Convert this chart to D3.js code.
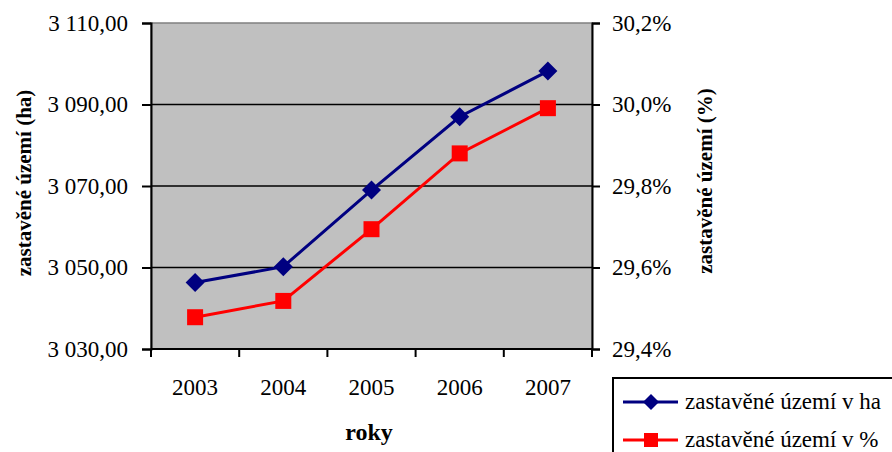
<!DOCTYPE html>
<html><head><meta charset="utf-8">
<script src="https://cdn.jsdelivr.net/npm/d3@7/dist/d3.min.js"></script>
<style>
html,body{margin:0;padding:0;background:#fff;}
svg{display:block;}
svg text{font-family:"Liberation Serif","Times New Roman",serif !important;}
</style></head>
<body><svg id="c" width="892" height="452"></svg>
<script>
const years = ["2003","2004","2005","2006","2007"];
const valuesHa = [3046.3, 3050.2, 3069.0, 3087.0, 3098.2];
const valuesPct = [0.29478, 0.29518, 0.29694, 0.29880, 0.29991];
const leftTicks = [3030, 3050, 3070, 3090, 3110];
const rightTicks = [0.294, 0.296, 0.298, 0.300, 0.302];
const seriesNames = ["zastavěné území v ha", "zastavěné území v %"];

const L = 151, R = 592, T = 23, B = 349;
const svg = d3.select("#c");
const loc = d3.formatLocale({decimal: ",", thousands: " ", grouping: [3], currency: ["", ""], percent: "%"});
const fmtL = loc.format(",.2f");
const fmtR = loc.format(".1%");

const x = d3.scaleBand().domain(years).range([L, R]);
const yL = d3.scaleLinear().domain([3030, 3110]).range([B, T]);
const yR = d3.scaleLinear().domain([0.294, 0.302]).range([B, T]);
const cx = d => x(d) + x.bandwidth() / 2;

// plot background
svg.append("rect").attr("x", L).attr("y", T).attr("width", R - L).attr("height", B - T)
  .attr("fill", "#c0c0c0").attr("stroke", "#808080").attr("stroke-width", 1.5);

// gridlines
svg.append("g").selectAll("line").data(leftTicks.slice(1, -1)).join("line")
  .attr("x1", L).attr("x2", R).attr("y1", d => yL(d)).attr("y2", d => yL(d))
  .attr("stroke", "#000").attr("stroke-width", 1.5);

// left axis
const gl = svg.append("g").attr("transform", `translate(${L},0)`)
  .call(d3.axisLeft(yL).tickValues(leftTicks).tickFormat(fmtL).tickSize(9).tickPadding(14));
// right axis
const gr = svg.append("g").attr("transform", `translate(${R},0)`)
  .call(d3.axisRight(yR).tickValues(rightTicks).tickFormat(fmtR).tickSize(8).tickPadding(12));
// bottom axis labels
const gb = svg.append("g").attr("transform", `translate(0,${B})`)
  .call(d3.axisBottom(x).tickSize(0).tickPadding(30));
// bottom boundary ticks
const bounds = years.map(d => x(d)).concat([R]);
svg.append("g").selectAll("line").data(bounds).join("line")
  .attr("x1", d => d).attr("x2", d => d).attr("y1", B).attr("y2", B + 8)
  .attr("stroke", "#000").attr("stroke-width", 2);

[gl, gr, gb].forEach(g => {
  g.attr("font-family", "Liberation Serif").attr("font-size", 23);
  g.select(".domain").attr("stroke", "#000").attr("stroke-width", 2);
  g.selectAll(".tick line").attr("stroke", "#000").attr("stroke-width", 2);
  g.selectAll(".tick text").style("font-family", "'Liberation Serif', serif").style("font-size", "23px").attr("fill", "#000");
});
gb.select(".domain").attr("d", `M${L},0H${R}`);

// axis titles
svg.append("text").attr("transform", `translate(31,183) rotate(-90)`)
  .attr("text-anchor", "middle").attr("font-weight", "bold").attr("font-size", 21)
  .text("zastavěné území (ha)");
svg.append("text").attr("transform", `translate(712,181) rotate(-90)`)
  .attr("text-anchor", "middle").attr("font-weight", "bold").attr("font-size", 21)
  .text("zastavěné území (%)");
svg.append("text").attr("x", 369).attr("y", 440)
  .attr("text-anchor", "middle").attr("font-weight", "bold").attr("font-size", 24)
  .text("roky");

// series
const colors = ["#000080", "#ff0000"];
const lineHa = d3.line().x((d, i) => cx(years[i])).y(d => yL(d));
const linePct = d3.line().x((d, i) => cx(years[i])).y(d => yR(d));
svg.append("path").datum(valuesHa).attr("d", lineHa).attr("fill", "none")
  .attr("stroke", colors[0]).attr("stroke-width", 3);
svg.append("path").datum(valuesPct).attr("d", linePct).attr("fill", "none")
  .attr("stroke", colors[1]).attr("stroke-width", 3);

const diamond = (px, py, r) => `M${px},${py - r}L${px + r},${py}L${px},${py + r}L${px - r},${py}Z`;
svg.append("g").selectAll("path").data(valuesHa).join("path")
  .attr("d", (d, i) => diamond(cx(years[i]), yL(d), 9.5)).attr("fill", colors[0]);
svg.append("g").selectAll("rect").data(valuesPct).join("rect")
  .attr("x", (d, i) => cx(years[i]) - 8).attr("y", d => yR(d) - 8)
  .attr("width", 16).attr("height", 16).attr("fill", colors[1]);

// legend
const lg = svg.append("g");
lg.append("rect").attr("x", 613).attr("y", 378).attr("width", 300).attr("height", 100)
  .attr("fill", "#fff").attr("stroke", "#000").attr("stroke-width", 2);
const rows = [402, 440];
seriesNames.forEach((name, i) => {
  const y = rows[i];
  lg.append("line").attr("x1", 623).attr("x2", 678).attr("y1", y).attr("y2", y)
    .attr("stroke", colors[i]).attr("stroke-width", 3);
  if (i === 0) lg.append("path").attr("d", diamond(651, y, 8)).attr("fill", colors[0]);
  else lg.append("rect").attr("x", 644).attr("y", y - 7).attr("width", 14).attr("height", 14).attr("fill", colors[1]);
  lg.append("text").attr("x", 685).attr("y", y + 7).attr("font-size", 23).text(name);
});
</script></body></html>
